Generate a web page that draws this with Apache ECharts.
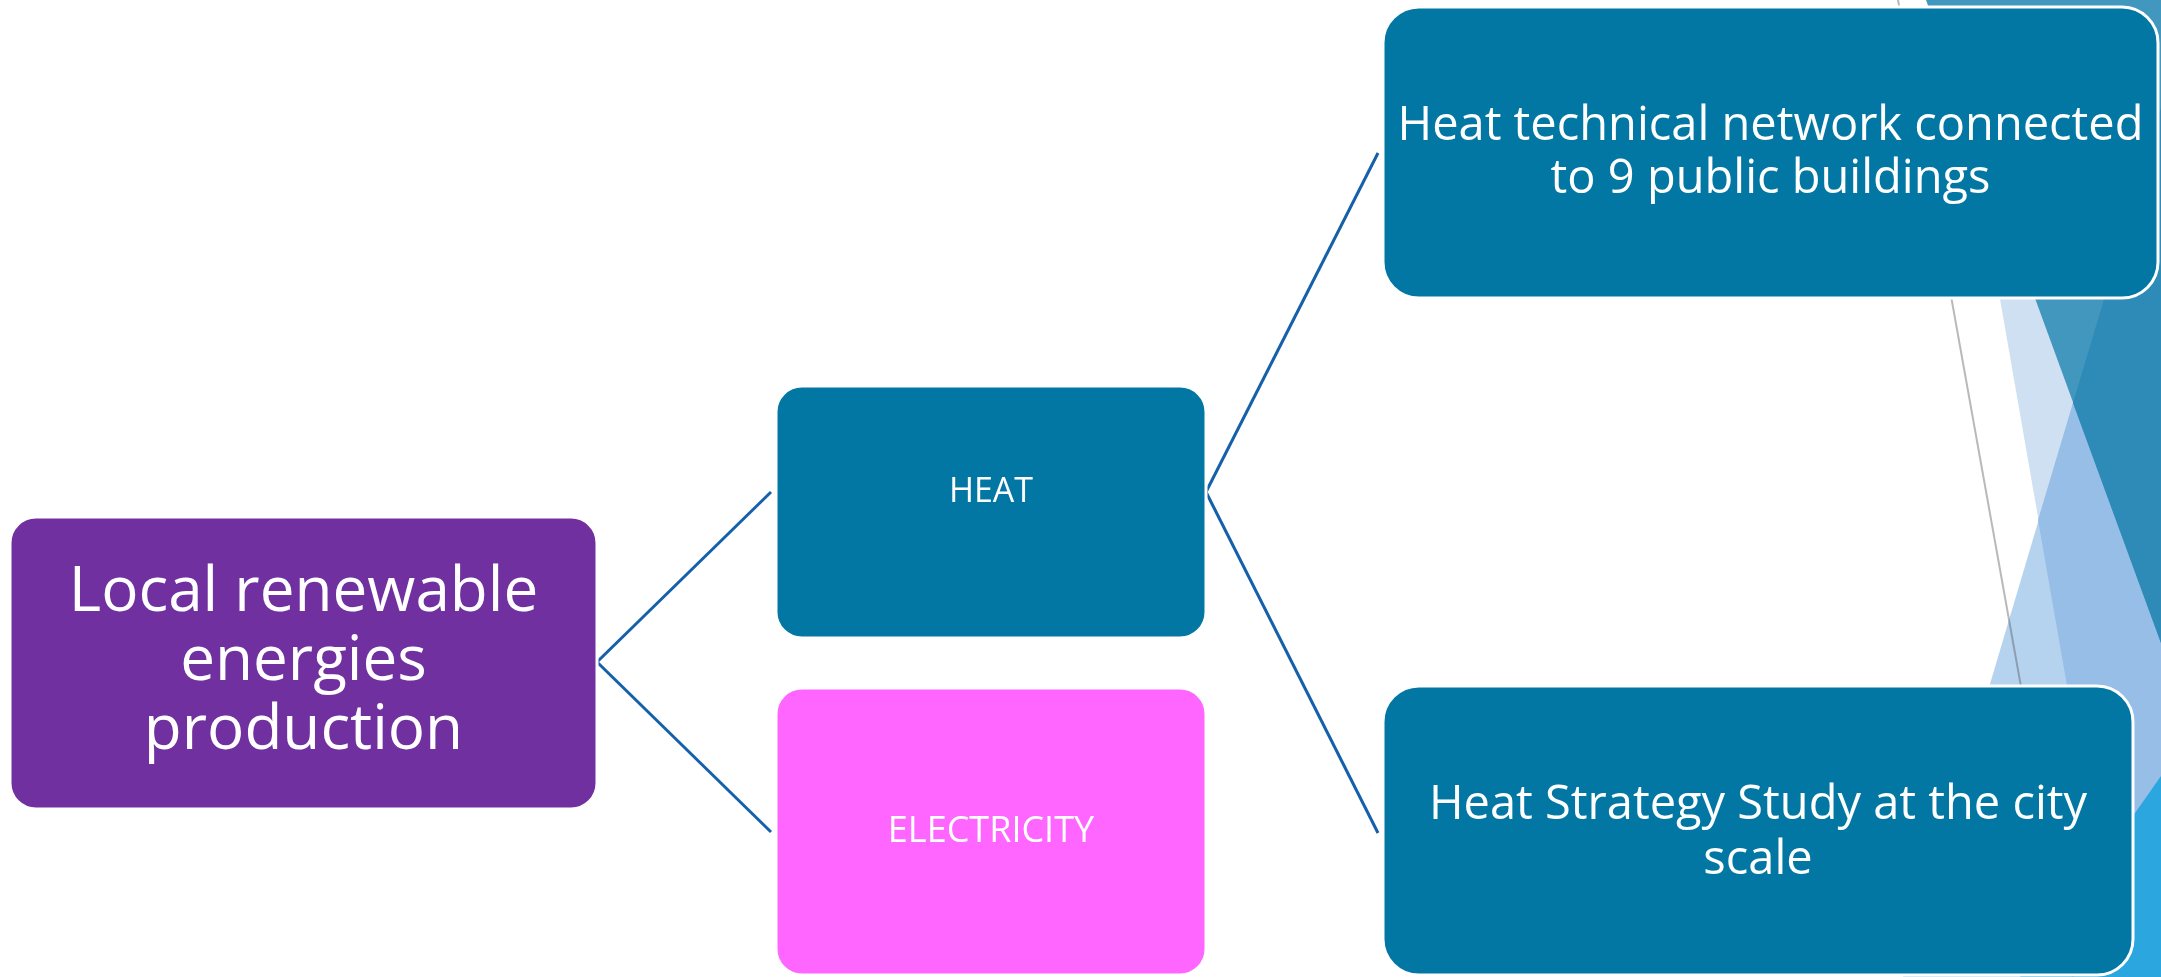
<!DOCTYPE html>
<html><head><meta charset="utf-8">
<script src="https://cdn.jsdelivr.net/npm/echarts@6/dist/echarts.min.js"></script>
<style>html,body{margin:0;padding:0;background:#fff;overflow:hidden}#c{width:2161px;height:977px}</style>
</head><body><div id="c"></div>
<script>
// ---- data: hierarchy ----
const nodeNames = ['Local renewable energies production', 'HEAT', 'ELECTRICITY',
  'Heat technical network connected to 9 public buildings', 'Heat Strategy Study at the city scale'];
const nodeLabels = ['Local renewable\nenergies\nproduction', 'HEAT', 'ELECTRICITY',
  'Heat technical network connected\nto 9 public buildings', 'Heat Strategy Study at the city\nscale'];
const nodeParents = [-1, 0, 0, 1, 1];

// ---- layout (in canvas units) ----
const layout = {
  left:   [10, 776, 776, 1383, 1383],
  right:  [597, 1206, 1206, 2158, 2133],
  top:    [517, 386, 688, 7, 686],
  bottom: [809, 638, 975, 298, 975],
  anchorY:[662, 492, 832, 153, 833],
  radius: [26, 26, 26, 36, 36]
};
// ---- styles ----
const styles = {
  fill: ['#7030A0', '#0277A3', '#FF66FF', '#0277A3', '#0277A3'],
  font: ['Open Sans', 'Open Sans', 'Open Sans', 'Open Sans', 'Open Sans'],
  size: [62, 34, 36, 47, 47],
  lineH: [69, 40, 40, 53, 55],
  link: '#1560AA'
};

const boxData = nodeNames.map((n, i) => ({
  name: n,
  value: [layout.left[i], layout.top[i], layout.right[i], layout.bottom[i], layout.anchorY[i]]
}));
const linkData = [];
nodeParents.forEach((p, i) => {
  if (p < 0) return;
  linkData.push({ coords: [[layout.right[p], layout.anchorY[p]], [layout.left[i] - 5, layout.anchorY[i]]] });
});

const chart = echarts.init(document.getElementById('c'), null, { renderer: 'canvas' });
chart.setOption({
  animation: false,
  backgroundColor: '#ffffff',
  grid: { left: 0, right: 0, top: 0, bottom: 0 },
  xAxis: { type: 'value', min: 0, max: 2161, show: false },
  yAxis: { type: 'value', min: 0, max: 977, inverse: true, show: false },
  graphic: { elements: [
    { type: 'polygon', z: 0, shape: { points: [[1948,0],[2161,0],[2161,977],[2118,977]] }, style: { fill: '#CFE0F2' } },
    { type: 'polygon', z: 0, shape: { points: [[2161,108],[1903,977],[2161,977]] }, style: { fill: '#B5D3EE' } },
    { type: 'polygon', z: 0, shape: { points: [[2161,108],[2038,520],[2118,977],[2161,977]] }, style: { fill: '#96BEE6' } },
    { type: 'polygon', z: 0, shape: { points: [[1926,0],[2161,0],[2161,643]] }, style: { fill: '#4297BF' } },
    { type: 'polygon', z: 0, shape: { points: [[2161,108],[2073,403],[2161,643]] }, style: { fill: '#2E8BB8' } },
    { type: 'polygon', z: 0, shape: { points: [[2161,776],[2020,977],[2161,977]] }, style: { fill: '#2CA6DE' } },
    { type: 'line', z: 0, shape: { x1: 1898, y1: 0, x2: 2073, y2: 977 }, style: { stroke: 'rgba(80,80,80,0.4)', lineWidth: 2 } }
  ]},
  series: [
    {
      type: 'lines', coordinateSystem: 'cartesian2d', z: 3, silent: true,
      data: linkData,
      lineStyle: { color: styles.link, width: 3, opacity: 1, curveness: 0 },
      symbol: 'none'
    },
    {
      type: 'custom', coordinateSystem: 'cartesian2d', z: 5, silent: true,
      data: boxData,
      renderItem: function (params, api) {
        const i = params.dataIndex;
        const p0 = api.coord([api.value(0), api.value(1)]);
        const p1 = api.coord([api.value(2), api.value(3)]);
        const pa = api.coord([0, api.value(4)]);
        return {
          type: 'group',
          children: [
            { type: 'rect',
              shape: { x: p0[0], y: p0[1], width: p1[0] - p0[0], height: p1[1] - p0[1], r: layout.radius[i] },
              style: { fill: styles.fill[i], stroke: '#ffffff', lineWidth: 3 } },
            { type: 'text',
              style: { text: nodeLabels[i], x: (p0[0] + p1[0]) / 2, y: pa[1],
                align: 'center', verticalAlign: 'middle', textAlign: 'center', textVerticalAlign: 'middle',
                fill: '#ffffff', fontFamily: styles.font[i], fontSize: styles.size[i], lineHeight: styles.lineH[i] } }
          ]
        };
      }
    }
  ]
});
</script></body></html>
